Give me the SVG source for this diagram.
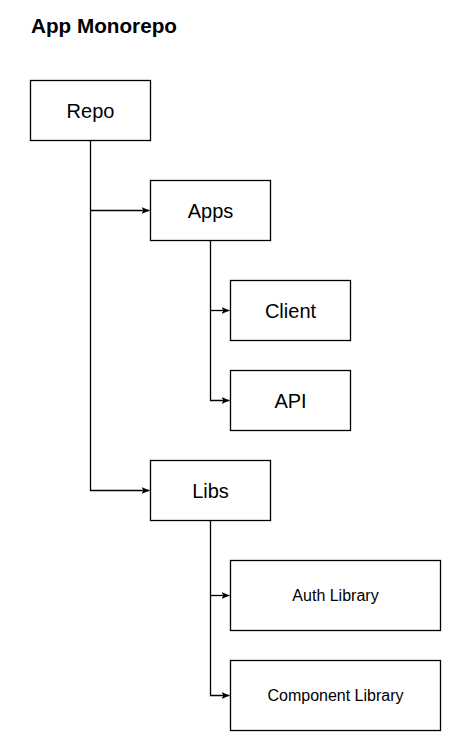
<svg xmlns="http://www.w3.org/2000/svg" width="451" height="741" viewBox="0 0 451 741">
<style>
.box{fill:#fff;stroke:#000;stroke-width:1.3}
.t{font-family:"Liberation Sans",Arial,sans-serif;fill:#000;text-anchor:middle}
.big{font-size:20px}
.small{font-size:16px}
.edge{fill:none;stroke:#000;stroke-width:1.3}
</style>
<defs>
<marker id="arr" viewBox="0 0 10 10" refX="10" refY="5" markerWidth="8" markerHeight="8" markerUnits="userSpaceOnUse" orient="auto">
<path d="M0,0.8 L10,5 L0,9.2 L2.5,5 Z" fill="#000"/>
</marker>
</defs>
<rect width="451" height="741" fill="#fff"/>
<text x="31" y="32.5" font-family="Liberation Sans,Arial,sans-serif" font-weight="bold" font-size="20.7" fill="#000">App Monorepo</text>
<g id="connectors">
<path class="edge" d="M90.5,140.5 V490.5 H149.5" marker-end="url(#arr)"/>
<path class="edge" d="M90.5,210.5 H149.5" marker-end="url(#arr)"/>
<path class="edge" d="M210.5,240.5 V400.5 H229.5" marker-end="url(#arr)"/>
<path class="edge" d="M210.5,310.5 H229.5" marker-end="url(#arr)"/>
<path class="edge" d="M210.5,520.5 V695.5 H229.5" marker-end="url(#arr)"/>
<path class="edge" d="M210.5,595.5 H229.5" marker-end="url(#arr)"/>
</g>
<g id="repo"><rect class="box" x="30.5" y="80.5" width="120" height="60"/><text class="t big" x="90.5" y="117.5">Repo</text></g>
<g id="apps"><rect class="box" x="150.5" y="180.5" width="120" height="60"/><text class="t big" x="210.5" y="217.5">Apps</text></g>
<g id="client"><rect class="box" x="230.5" y="280.5" width="120" height="60"/><text class="t big" x="290.5" y="317.5">Client</text></g>
<g id="api"><rect class="box" x="230.5" y="370.5" width="120" height="60"/><text class="t big" x="290.5" y="407.5">API</text></g>
<g id="libs"><rect class="box" x="150.5" y="460.5" width="120" height="60"/><text class="t big" x="210.5" y="497.5">Libs</text></g>
<g id="auth-library"><rect class="box" x="230.5" y="560.5" width="210" height="70"/><text class="t small" x="335.5" y="600.5">Auth Library</text></g>
<g id="component-library"><rect class="box" x="230.5" y="660.5" width="210" height="70"/><text class="t small" x="335.5" y="700.5">Component Library</text></g>
</svg>
